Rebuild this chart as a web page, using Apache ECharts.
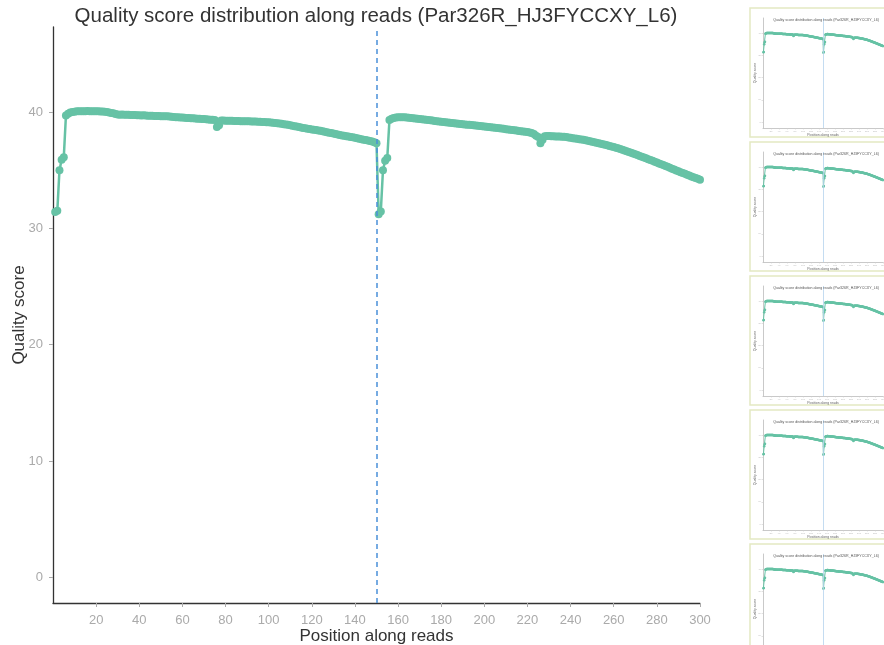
<!DOCTYPE html>
<html>
<head>
<meta charset="utf-8">
<script src="https://cdn.jsdelivr.net/npm/echarts@6/dist/echarts.min.js"></script>
<style>
  html, body { margin: 0; padding: 0; background: #fff; }
  #chart { width: 884px; height: 645px; }
</style>
</head>
<body>
<div id="chart"></div>
<script>
// mean quality per position, read 1 (positions 1-150)
const read1 = [
  31.4, 31.5, 35.0, 35.9, 36.1, 39.7, 39.85, 39.95, 40.0, 40.02,
  40.05, 40.06, 40.07, 40.07, 40.06, 40.08, 40.07, 40.06, 40.05, 40.06,
  40.05, 40.04, 40.03, 40.02, 40.0, 39.96, 39.92, 39.88, 39.82, 39.78,
  39.76, 39.77, 39.76, 39.75, 39.76, 39.74, 39.73, 39.74, 39.72, 39.71,
  39.7, 39.71, 39.69, 39.68, 39.68, 39.67, 39.66, 39.66, 39.65, 39.64,
  39.63, 39.62, 39.62, 39.6, 39.58, 39.57, 39.55, 39.54, 39.53, 39.52,
  39.5, 39.49, 39.47, 39.46, 39.45, 39.44, 39.42, 39.41, 39.4, 39.39,
  39.37, 39.36, 39.34, 39.33, 39.31, 38.7, 38.85, 39.27, 39.26, 39.25,
  39.25, 39.24, 39.24, 39.23, 39.22, 39.22, 39.21, 39.2, 39.2, 39.19,
  39.19, 39.18, 39.17, 39.17, 39.16, 39.15, 39.14, 39.13, 39.12, 39.11,
  39.09, 39.07, 39.05, 39.03, 39.0, 38.98, 38.95, 38.92, 38.89, 38.86,
  38.82, 38.78, 38.74, 38.7, 38.66, 38.62, 38.59, 38.56, 38.53, 38.5,
  38.47, 38.44, 38.41, 38.38, 38.34, 38.3, 38.26, 38.22, 38.18, 38.14,
  38.1, 38.06, 38.02, 37.98, 37.95, 37.92, 37.89, 37.85, 37.82, 37.78,
  37.74, 37.7, 37.66, 37.62, 37.58, 37.54, 37.5, 37.45, 37.4, 37.3
];

// read 2 (positions 151-300)
const read2 = [
  31.2, 31.45, 35.0, 35.8, 36.05, 39.3, 39.42, 39.48, 39.52, 39.54,
  39.55, 39.55, 39.54, 39.52, 39.5, 39.48, 39.46, 39.44, 39.42, 39.4,
  39.37, 39.35, 39.33, 39.3, 39.28, 39.26, 39.23, 39.21, 39.18, 39.16,
  39.13, 39.11, 39.09, 39.07, 39.05, 39.03, 39.01, 38.99, 38.97, 38.95,
  38.93, 38.91, 38.89, 38.87, 38.85, 38.83, 38.81, 38.79, 38.77, 38.75,
  38.73, 38.71, 38.69, 38.67, 38.65, 38.62, 38.6, 38.57, 38.55, 38.52,
  38.5, 38.47, 38.45, 38.42, 38.4, 38.37, 38.35, 38.32, 38.3, 38.27,
  38.24, 38.2, 38.1, 37.95, 37.85, 37.3, 37.6, 37.92, 37.94, 37.93,
  37.92, 37.91, 37.9, 37.89, 37.88, 37.87, 37.86, 37.84, 37.81, 37.78,
  37.75, 37.72, 37.69, 37.66, 37.63, 37.6, 37.56, 37.52, 37.48, 37.44,
  37.4, 37.36, 37.31, 37.27, 37.22, 37.18, 37.13, 37.08, 37.03, 36.98,
  36.93, 36.87, 36.81, 36.75, 36.69, 36.63, 36.56, 36.5, 36.43, 36.36,
  36.29, 36.22, 36.15, 36.08, 36.01, 35.94, 35.87, 35.8, 35.72, 35.65,
  35.58, 35.5, 35.43, 35.35, 35.28, 35.2, 35.12, 35.05, 34.97, 34.9,
  34.82, 34.75, 34.68, 34.6, 34.53, 34.46, 34.39, 34.32, 34.25, 34.18
];

const xTicks = [20, 40, 60, 80, 100, 120, 140, 160, 180, 200, 220, 240, 260, 280, 300];
const yTicks = [0, 10, 20, 30, 40];
const readSplit = 150;
const sampleTitle = 'Quality score distribution along reads (Par326R_HJ3FYCCXY_L6)';

const FONT = 'Liberation Sans, Arial, sans-serif';
const GREEN = '#66c2a5';

// pairs [position, quality]
const points = read1.map((v, i) => [i + 1, v])
  .concat(read2.map((v, i) => [read1.length + i + 1, v]));

const chart = echarts.init(document.getElementById('chart'));

const titles = [{
  text: sampleTitle,
  left: 371, top: 1, textAlign: 'center',
  textStyle: { fontFamily: FONT, fontSize: 20.5, fontWeight: 'normal', color: '#333' }
}];
const grids = [{ left: 53, top: 27, width: 647, height: 576, outerBoundsMode: 'none', containLabel: false }];
const xAxes = [{
  type: 'value', gridIndex: 0, min: 0, max: 300,
  name: 'Position along reads', nameLocation: 'middle', nameGap: 25, nameMoveOverlap: false,
  nameTextStyle: { fontFamily: FONT, fontSize: 17, color: '#333' },
  splitLine: { show: false },
  axisLine: { onZero: false, lineStyle: { color: '#333', width: 1.3 } },
  axisTick: { customValues: xTicks, length: 4, lineStyle: { color: '#aaa' } },
  axisLabel: { customValues: xTicks, margin: 11, fontFamily: FONT, fontSize: 13, color: '#aaa' }
}];
const yAxes = [{
  type: 'value', gridIndex: 0, min: -2.2, max: 47.3,
  name: 'Quality score', nameLocation: 'middle', nameGap: 25, nameMoveOverlap: false,
  nameTextStyle: { fontFamily: FONT, fontSize: 17, color: '#333' },
  splitLine: { show: false },
  axisLine: { show: true, onZero: false, lineStyle: { color: '#333', width: 1.3 } },
  axisTick: { show: true, customValues: yTicks, length: 4, lineStyle: { color: '#aaa' } },
  axisLabel: { customValues: yTicks, margin: 10, fontFamily: FONT, fontSize: 13, color: '#aaa' }
}];
const series = [{
  type: 'line', xAxisIndex: 0, yAxisIndex: 0,
  data: points,
  symbol: 'circle', symbolSize: 8, showSymbol: true,
  itemStyle: { color: GREEN },
  lineStyle: { color: GREEN, width: 2.5 },
  silent: true,
  markLine: {
    silent: true, symbol: 'none', label: { show: false },
    lineStyle: { color: '#4a90d9', type: [5, 4], width: 1.5 },
    data: [{ xAxis: readSplit }]
  }
}];

// thumbnails of the other samples on the right
const thumbTops = [8, 142, 276, 410, 544];
const graphics = [];
thumbTops.forEach((top, k) => {
  const g = k + 1;
  graphics.push({
    type: 'rect', shape: { x: 750, y: top, width: 160, height: 129 },
    style: { fill: '#fff', stroke: '#e4e9c2', lineWidth: 1.5 }, z: -1
  });
  titles.push({
    text: sampleTitle, left: 821, top: top + 5, textAlign: 'center',
    textStyle: { fontFamily: FONT, fontSize: 3.6, fontWeight: 'normal', color: '#555' }
  });
  grids.push({ left: 763, top: top + 10, width: 120, height: 110, outerBoundsMode: 'none', containLabel: false });
  xAxes.push({
    type: 'value', gridIndex: g, min: 0, max: 300,
    name: 'Position along reads', nameLocation: 'middle', nameGap: 5, nameMoveOverlap: false,
    nameTextStyle: { fontFamily: FONT, fontSize: 3.5, color: '#666' },
    splitLine: { show: false },
    axisLine: { onZero: false, lineStyle: { color: '#bbb', width: 0.8 } },
    axisTick: { customValues: xTicks, length: 1.5, lineStyle: { color: '#ccc', width: 0.6 } },
    axisLabel: { customValues: xTicks, margin: 2, fontFamily: FONT, fontSize: 2.5, color: '#bbb' }
  });
  yAxes.push({
    type: 'value', gridIndex: g, min: -2.7, max: 46.8,
    name: 'Quality score', nameLocation: 'middle', nameGap: 6, nameMoveOverlap: false,
    nameTextStyle: { fontFamily: FONT, fontSize: 3.5, color: '#666' },
    splitLine: { show: false },
    axisLine: { show: true, onZero: false, lineStyle: { color: '#bbb', width: 0.8 } },
    axisTick: { show: true, customValues: yTicks, length: 1.5, lineStyle: { color: '#ccc', width: 0.6 } },
    axisLabel: { customValues: yTicks, margin: 2, fontFamily: FONT, fontSize: 2.5, color: '#bbb' }
  });
  series.push({
    type: 'line', xAxisIndex: g, yAxisIndex: g,
    data: points,
    symbol: 'circle', symbolSize: 2.5, showSymbol: true,
    itemStyle: { color: GREEN },
    lineStyle: { color: GREEN, width: 1 },
    silent: true,
    markLine: {
      silent: true, symbol: 'none', label: { show: false },
      lineStyle: { color: '#b5d3ee', type: 'solid', width: 0.8 },
      data: [{ xAxis: readSplit }]
    }
  });
});

chart.setOption({
  animation: false,
  backgroundColor: '#fff',
  title: titles,
  grid: grids,
  xAxis: xAxes,
  yAxis: yAxes,
  graphic: graphics,
  series: series
});
</script>
</body>
</html>
